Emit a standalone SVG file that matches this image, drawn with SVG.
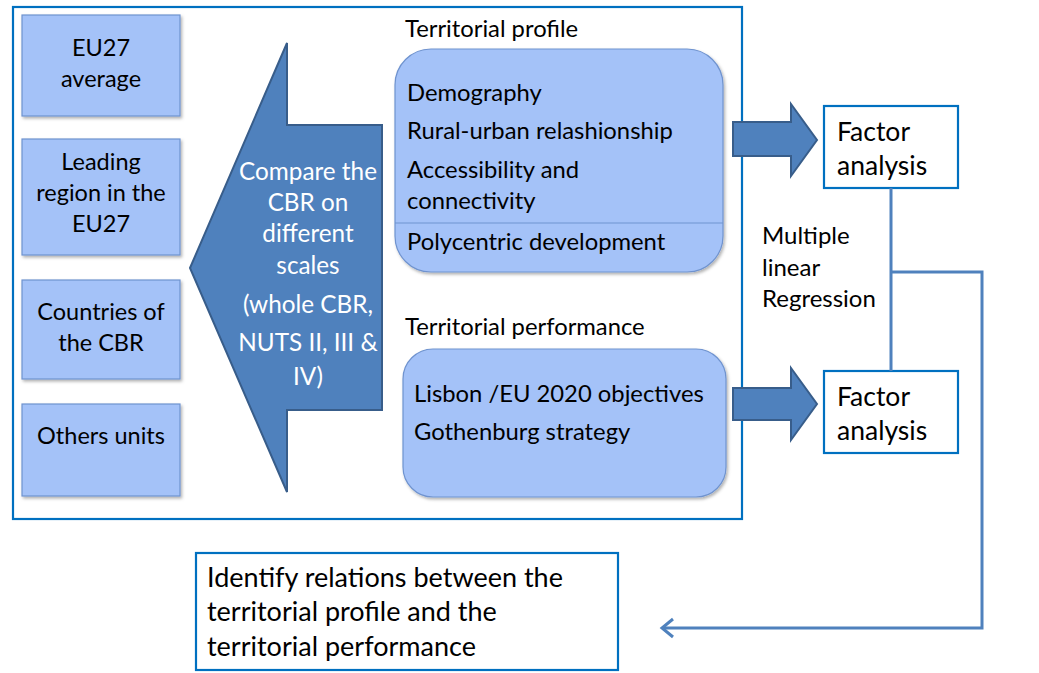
<svg xmlns="http://www.w3.org/2000/svg" width="1039" height="673" viewBox="0 0 1039 673">
<style>
text{font-family:Lato,"Open Sans",sans-serif;fill:#000;}
.unit{fill:#A4C2F8;stroke:#6F93CF;stroke-width:1.2;filter:url(#sh);}
.ut{font-size:23.5px;text-anchor:middle;}
.rr{fill:#A4C2F8;stroke:#6F93CF;stroke-width:1.2;filter:url(#sh);}
.lt{font-size:23.8px;}
.fa{fill:#fff;stroke:#0070C0;stroke-width:2.2;}
.fat{font-size:26.5px;}
.idt{font-size:27px;}
.blk{fill:#4F81BD;stroke:#385D8A;stroke-width:2;}
.wt{fill:#fff;font-size:24.3px;text-anchor:middle;}
.mt{font-size:24px;}
.conn{fill:none;stroke:#4F81BD;stroke-width:3;}
</style>
<defs>
<filter id="sh" x="-10%" y="-10%" width="130%" height="130%">
<feDropShadow dx="1.5" dy="2" stdDeviation="1.5" flood-color="#000" flood-opacity="0.3"/>
</filter>
</defs>
<rect width="1039" height="673" fill="#fff"/>
<g id="frame"><rect x="13" y="7" width="729" height="512" fill="none" stroke="#0070C0" stroke-width="2.2"/></g>

<g id="eu27"><rect class="unit" x="22" y="15" width="158" height="101"/>
<text class="ut" x="101" y="56">EU27</text><text class="ut" x="101" y="87">average</text></g>
<g id="leading"><rect class="unit" x="22" y="139" width="158" height="116"/>
<text class="ut" x="101" y="170">Leading</text><text class="ut" x="101" y="201">region in the</text><text class="ut" x="101" y="232">EU27</text></g>
<g id="countries"><rect class="unit" x="22" y="280" width="158" height="99"/>
<text class="ut" x="101" y="320">Countries of</text><text class="ut" x="101" y="351">the CBR</text></g>
<g id="others"><rect class="unit" x="22" y="404" width="158" height="92"/>
<text class="ut" x="101" y="444">Others units</text></g>

<g id="compare"><polygon class="blk" points="190,268 287,43 287,125 382,125 382,410 287,410 287,492"/>
<text class="wt" x="308" y="180">Compare the</text>
<text class="wt" x="308" y="211">CBR on</text>
<text class="wt" x="308" y="242">different</text>
<text class="wt" x="308" y="274">scales</text>
<text class="wt" x="308" y="313">(whole CBR,</text>
<text class="wt" x="308" y="351">NUTS II, III &amp;</text>
<text class="wt" x="308" y="385">IV)</text></g>

<g id="profile"><text class="lt" x="405" y="37">Territorial profile</text>
<rect class="rr" x="395" y="49" width="328" height="223" rx="36"/>
<line x1="395" y1="223" x2="723" y2="223" stroke="#6F93CF" stroke-width="1.2"/>
<text class="lt" x="407" y="101">Demography</text>
<text class="lt" x="407" y="139">Rural-urban relashionship</text>
<text class="lt" x="407" y="178">Accessibility and</text>
<text class="lt" x="407" y="209">connectivity</text>
<text class="lt" x="407" y="250">Polycentric development</text></g>

<g id="performance"><text class="lt" x="405" y="335">Territorial performance</text>
<rect class="rr" x="403" y="349" width="323" height="148" rx="30"/>
<text class="lt" x="414" y="402">Lisbon /EU 2020 objectives</text>
<text class="lt" x="414" y="440">Gothenburg strategy</text></g>

<g id="factor1"><rect class="fa" x="824" y="106" width="134" height="82"/>
<text class="fat" x="837" y="141">Factor</text><text class="fat" x="837" y="175">analysis</text></g>
<g id="factor2"><rect class="fa" x="824" y="371" width="134" height="82"/>
<text class="fat" x="837" y="406">Factor</text><text class="fat" x="837" y="440">analysis</text></g>

<g id="mlr"><text class="mt" x="762" y="244">Multiple</text>
<text class="mt" x="762" y="276">linear</text>
<text class="mt" x="762" y="307">Regression</text></g>

<g id="identify"><rect class="fa" x="196" y="553" width="422" height="117"/>
<text class="idt" x="207" y="587">Identify relations between the</text>
<text class="idt" x="207" y="621">territorial profile and the</text>
<text class="idt" x="207" y="656">territorial performance</text></g>

<g id="connectors">
<polygon class="blk" points="733,122 791,122 791,104 817,140 791,176 791,156 733,156"/>
<polygon class="blk" points="733,388 791,388 791,368 817,404 791,440 791,420 733,420"/>
<path class="conn" d="M891,188 V371 M891,272 H982 V628 H662"/>
<path class="conn" d="M673,619 L662,628 L673,637"/>
</g>
</svg>
